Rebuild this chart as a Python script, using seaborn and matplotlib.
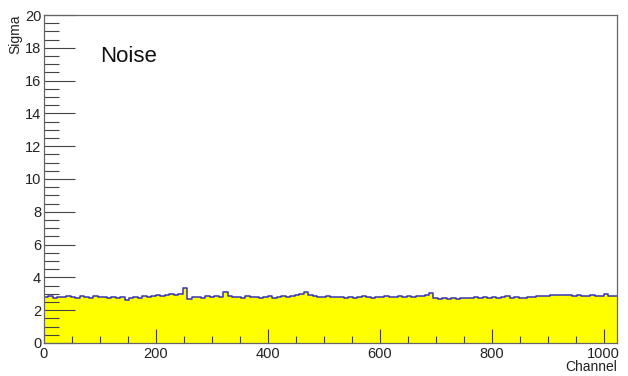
import numpy as np
import pandas as pd
import matplotlib
matplotlib.use("Agg")
import matplotlib.pyplot as plt
from matplotlib.ticker import MultipleLocator
import seaborn as sns

# Per-channel noise (sigma), grouped in bins of 8 channels over 0..1024
bin_width = 8
sigma = [
    2.80, 2.85, 2.76, 2.83, 2.78, 2.86, 2.80, 2.75, 2.84, 2.79, 2.76, 2.84, 2.78,
    2.81, 2.75, 2.80, 2.73, 2.79,
    2.64,
    2.75, 2.82, 2.77, 2.84, 2.80,
    2.85, 2.90, 2.86, 2.94, 2.97, 2.93, 2.99,
    3.34,
    2.66, 2.78,
    2.82, 2.77, 2.85, 2.79,
    2.88, 2.83, 3.10, 2.89, 2.80,
    2.81, 2.76, 2.84, 2.78, 2.82, 2.75, 2.81, 2.85, 2.77, 2.81, 2.84, 2.78, 2.86,
    2.93, 2.97, 3.12, 2.91,
    2.87, 2.83, 2.80, 2.86, 2.79,
    2.80, 2.83, 2.76, 2.81, 2.74, 2.80, 2.84, 2.79, 2.75, 2.82, 2.78, 2.85, 2.80,
    2.83, 2.86, 2.80, 2.87, 2.82, 2.88, 2.84, 2.90,
    3.04,
    2.74, 2.68, 2.73, 2.67, 2.74, 2.70, 2.75, 2.71,
    2.76, 2.78, 2.73, 2.79, 2.75, 2.81, 2.74, 2.78, 2.88, 2.75, 2.79, 2.76,
    2.75, 2.79, 2.81, 2.84, 2.88, 2.85, 2.90, 2.91, 2.94, 2.90, 2.95, 2.89,
    2.93, 2.88, 2.86, 2.91, 2.85, 2.89, 2.96, 2.86, 2.84,
]
title_text = "Noise"
x_label = "Channel"
y_label = "Sigma"

n_bins = len(sigma)
x_max = n_bins * bin_width
centers = np.arange(n_bins) * bin_width + bin_width / 2
df = pd.DataFrame({"channel": centers, "sigma": sigma})

plt.rcParams["font.family"] = ["Liberation Sans", "DejaVu Sans"]

fig = plt.figure(figsize=(6.28, 3.76), dpi=100)
ax = fig.add_axes([0.070, 0.088, 0.9125, 0.872])

hist_kws = dict(data=df, x="channel", weights="sigma", binwidth=bin_width,
                binrange=(0, x_max), element="step", ax=ax)
# Filled histogram body
sns.histplot(fill=True, color="#ffff00", alpha=1.0, linewidth=0, **hist_kws)
# Outline of the histogram
sns.histplot(fill=False, color="#3535b5", linewidth=1.1, **hist_kws)

ax.set_xlim(0, x_max)
ax.set_ylim(0, 20)

ax.xaxis.set_major_locator(MultipleLocator(200))
ax.xaxis.set_minor_locator(MultipleLocator(50))
ax.yaxis.set_major_locator(MultipleLocator(2))
ax.yaxis.set_minor_locator(MultipleLocator(0.5))

ax.tick_params(axis="x", which="major", direction="in", length=10, width=0.8,
               color="#444444", labelsize=10.5, labelcolor="#222222", pad=3,
               top=False)
ax.tick_params(axis="x", which="minor", direction="in", length=5, width=0.8,
               color="#444444", top=False)
ax.tick_params(axis="y", which="major", direction="in", length=22, width=0.8,
               color="#444444", labelsize=10.5, labelcolor="#222222", pad=2,
               right=False)
ax.tick_params(axis="y", which="minor", direction="in", length=11, width=0.8,
               color="#444444", right=False)

for side in ax.spines.values():
    side.set_color("#666666")
    side.set_linewidth(0.9)

ax.set_xlabel("")
ax.set_ylabel("")
fig.text(0.9825, 0.006, x_label, ha="right", va="bottom", fontsize=10,
         color="#222222")
fig.text(0.013, 0.962, y_label, ha="left", va="top", rotation=90, fontsize=10,
         color="#222222")
ax.text(100, 17.13, title_text, ha="left", va="baseline", fontsize=16,
        color="#111111")

fig.savefig("out.png", dpi=100)
